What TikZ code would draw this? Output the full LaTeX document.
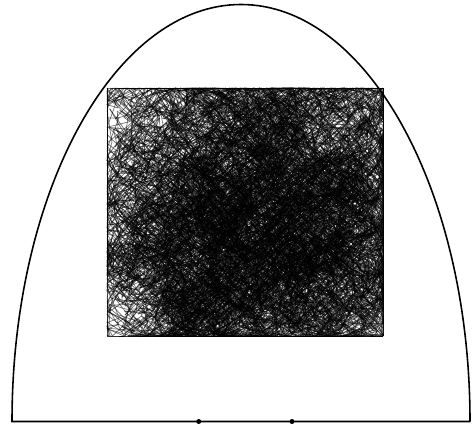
\documentclass[tikz,border=0pt]{standalone}
\usepackage{tikz}

\tikzset{
  outline/.style={line width=0.9pt, black},
  walk/.style={line width=0.4pt, black, draw opacity=0.55},
  mark dot/.style={fill=black, draw=none}
}

\begin{document}
\begin{tikzpicture}[x=0.02cm, y=0.02cm]
        \useasboundingbox (0,0) rectangle (472,427);

        % --- random walk in the square ---
        \pgfmathsetseed{4711}
        \gdef\wx{245}\gdef\wy{215}
        \foreach \i in {1,...,14000}{
            \pgfmathsetmacro\nx{min(383,max(107,\wx+rand*30-0.012*(\wx-245)))}
            \pgfmathsetmacro\ny{min(339,max(91,\wy+rand*30-0.012*(\wy-215)))}
            \draw[walk] (\wx,\wy) -- (\nx,\ny);
            \global\let\wx\nx \global\let\wy\ny
        }

        % --- domain boundary ---
        \coordinate (footL) at (12,5.5);
        \coordinate (footR) at (470,5.5);
        \coordinate (p1) at (198.7,5.5);
        \coordinate (p2) at (292,5.5);
        \draw[outline] (footR) -- (footL)
            arc[start angle=180, end angle=0, x radius=229, y radius=417];

        % --- marked points ---
        \fill[mark dot] (p1) circle (2.5);
        \fill[mark dot] (p2) circle (2.5);
    \end{tikzpicture}
\end{document}
